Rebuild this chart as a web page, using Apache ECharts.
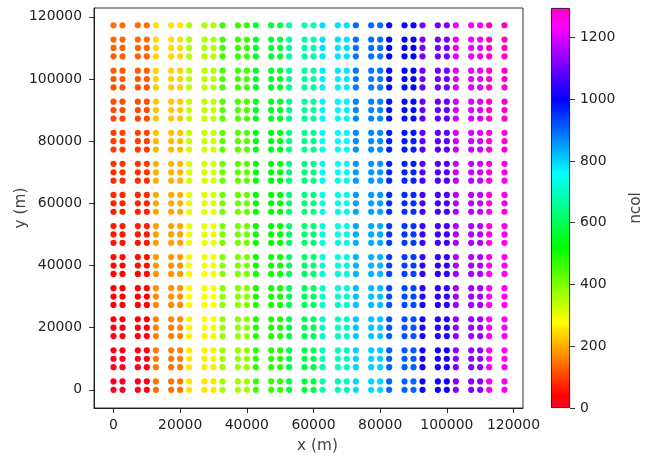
<!DOCTYPE html>
<html>
<head>
<meta charset="utf-8">
<script src="https://cdn.jsdelivr.net/npm/echarts@6/dist/echarts.min.js"></script>
<style>
  html, body { margin: 0; padding: 0; background: #fff; }
  #chart { width: 645px; height: 457px; }
</style>
</head>
<body>
<div id="chart"></div>
<script>
// Sample point coordinates (m): same spacing along x and y
const X_POS = [0, 2700, 7300, 10000, 12700, 17300, 20000, 22700, 27300, 30000, 32700,
  37300, 40000, 42700, 47300, 50000, 52700, 57300, 60000, 62700, 67300, 70000, 72700,
  77300, 80000, 82700, 87300, 90000, 92700, 97300, 100000, 102700, 107300, 110000, 112700, 117300];
const Y_POS = [0, 2700, 7300, 10000, 12700, 17300, 20000, 22700, 27300, 30000, 32700,
  37300, 40000, 42700, 47300, 50000, 52700, 57300, 60000, 62700, 67300, 70000, 72700,
  77300, 80000, 82700, 87300, 90000, 92700, 97300, 100000, 102700, 107300, 110000, 112700, 117300];

// ncol of every point: one row per Y_POS entry (bottom to top), one value per X_POS entry
const NCOL = [
  [0,1,2,3, 144,145,146, 252,253,254, 360,361,362, 468,469,470, 576,577,578, 684,685,686, 792,793,794, 900,901,902, 1008,1009,1010, 1116,1117,1118, 1224,1225],
  [4,5,6,7, 147,148,149, 255,256,257, 363,364,365, 471,472,473, 579,580,581, 687,688,689, 795,796,797, 903,904,905, 1011,1012,1013, 1119,1120,1121, 1226,1227],
  [8,9,10,11, 150,151,152, 258,259,260, 366,367,368, 474,475,476, 582,583,584, 690,691,692, 798,799,800, 906,907,908, 1014,1015,1016, 1122,1123,1124, 1228,1229],
  [12,13,14,15, 153,154,155, 261,262,263, 369,370,371, 477,478,479, 585,586,587, 693,694,695, 801,802,803, 909,910,911, 1017,1018,1019, 1125,1126,1127, 1230,1231],
  [16,17,18,19, 156,157,158, 264,265,266, 372,373,374, 480,481,482, 588,589,590, 696,697,698, 804,805,806, 912,913,914, 1020,1021,1022, 1128,1129,1130, 1232,1233],
  [20,21,22,23, 159,160,161, 267,268,269, 375,376,377, 483,484,485, 591,592,593, 699,700,701, 807,808,809, 915,916,917, 1023,1024,1025, 1131,1132,1133, 1234,1235],
  [24,25,26,27, 162,163,164, 270,271,272, 378,379,380, 486,487,488, 594,595,596, 702,703,704, 810,811,812, 918,919,920, 1026,1027,1028, 1134,1135,1136, 1236,1237],
  [28,29,30,31, 165,166,167, 273,274,275, 381,382,383, 489,490,491, 597,598,599, 705,706,707, 813,814,815, 921,922,923, 1029,1030,1031, 1137,1138,1139, 1238,1239],
  [32,33,34,35, 168,169,170, 276,277,278, 384,385,386, 492,493,494, 600,601,602, 708,709,710, 816,817,818, 924,925,926, 1032,1033,1034, 1140,1141,1142, 1240,1241],
  [36,37,38,39, 171,172,173, 279,280,281, 387,388,389, 495,496,497, 603,604,605, 711,712,713, 819,820,821, 927,928,929, 1035,1036,1037, 1143,1144,1145, 1242,1243],
  [40,41,42,43, 174,175,176, 282,283,284, 390,391,392, 498,499,500, 606,607,608, 714,715,716, 822,823,824, 930,931,932, 1038,1039,1040, 1146,1147,1148, 1244,1245],
  [44,45,46,47, 177,178,179, 285,286,287, 393,394,395, 501,502,503, 609,610,611, 717,718,719, 825,826,827, 933,934,935, 1041,1042,1043, 1149,1150,1151, 1246,1247],
  [48,49,50,51, 180,181,182, 288,289,290, 396,397,398, 504,505,506, 612,613,614, 720,721,722, 828,829,830, 936,937,938, 1044,1045,1046, 1152,1153,1154, 1248,1249],
  [52,53,54,55, 183,184,185, 291,292,293, 399,400,401, 507,508,509, 615,616,617, 723,724,725, 831,832,833, 939,940,941, 1047,1048,1049, 1155,1156,1157, 1250,1251],
  [56,57,58,59, 186,187,188, 294,295,296, 402,403,404, 510,511,512, 618,619,620, 726,727,728, 834,835,836, 942,943,944, 1050,1051,1052, 1158,1159,1160, 1252,1253],
  [60,61,62,63, 189,190,191, 297,298,299, 405,406,407, 513,514,515, 621,622,623, 729,730,731, 837,838,839, 945,946,947, 1053,1054,1055, 1161,1162,1163, 1254,1255],
  [64,65,66,67, 192,193,194, 300,301,302, 408,409,410, 516,517,518, 624,625,626, 732,733,734, 840,841,842, 948,949,950, 1056,1057,1058, 1164,1165,1166, 1256,1257],
  [68,69,70,71, 195,196,197, 303,304,305, 411,412,413, 519,520,521, 627,628,629, 735,736,737, 843,844,845, 951,952,953, 1059,1060,1061, 1167,1168,1169, 1258,1259],
  [72,73,74,75, 198,199,200, 306,307,308, 414,415,416, 522,523,524, 630,631,632, 738,739,740, 846,847,848, 954,955,956, 1062,1063,1064, 1170,1171,1172, 1260,1261],
  [76,77,78,79, 201,202,203, 309,310,311, 417,418,419, 525,526,527, 633,634,635, 741,742,743, 849,850,851, 957,958,959, 1065,1066,1067, 1173,1174,1175, 1262,1263],
  [80,81,82,83, 204,205,206, 312,313,314, 420,421,422, 528,529,530, 636,637,638, 744,745,746, 852,853,854, 960,961,962, 1068,1069,1070, 1176,1177,1178, 1264,1265],
  [84,85,86,87, 207,208,209, 315,316,317, 423,424,425, 531,532,533, 639,640,641, 747,748,749, 855,856,857, 963,964,965, 1071,1072,1073, 1179,1180,1181, 1266,1267],
  [88,89,90,91, 210,211,212, 318,319,320, 426,427,428, 534,535,536, 642,643,644, 750,751,752, 858,859,860, 966,967,968, 1074,1075,1076, 1182,1183,1184, 1268,1269],
  [92,93,94,95, 213,214,215, 321,322,323, 429,430,431, 537,538,539, 645,646,647, 753,754,755, 861,862,863, 969,970,971, 1077,1078,1079, 1185,1186,1187, 1270,1271],
  [96,97,98,99, 216,217,218, 324,325,326, 432,433,434, 540,541,542, 648,649,650, 756,757,758, 864,865,866, 972,973,974, 1080,1081,1082, 1188,1189,1190, 1272,1273],
  [100,101,102,103, 219,220,221, 327,328,329, 435,436,437, 543,544,545, 651,652,653, 759,760,761, 867,868,869, 975,976,977, 1083,1084,1085, 1191,1192,1193, 1274,1275],
  [104,105,106,107, 222,223,224, 330,331,332, 438,439,440, 546,547,548, 654,655,656, 762,763,764, 870,871,872, 978,979,980, 1086,1087,1088, 1194,1195,1196, 1276,1277],
  [108,109,110,111, 225,226,227, 333,334,335, 441,442,443, 549,550,551, 657,658,659, 765,766,767, 873,874,875, 981,982,983, 1089,1090,1091, 1197,1198,1199, 1278,1279],
  [112,113,114,115, 228,229,230, 336,337,338, 444,445,446, 552,553,554, 660,661,662, 768,769,770, 876,877,878, 984,985,986, 1092,1093,1094, 1200,1201,1202, 1280,1281],
  [116,117,118,119, 231,232,233, 339,340,341, 447,448,449, 555,556,557, 663,664,665, 771,772,773, 879,880,881, 987,988,989, 1095,1096,1097, 1203,1204,1205, 1282,1283],
  [120,121,122,123, 234,235,236, 342,343,344, 450,451,452, 558,559,560, 666,667,668, 774,775,776, 882,883,884, 990,991,992, 1098,1099,1100, 1206,1207,1208, 1284,1285],
  [124,125,126,127, 237,238,239, 345,346,347, 453,454,455, 561,562,563, 669,670,671, 777,778,779, 885,886,887, 993,994,995, 1101,1102,1103, 1209,1210,1211, 1286,1287],
  [128,129,130,131, 240,241,242, 348,349,350, 456,457,458, 564,565,566, 672,673,674, 780,781,782, 888,889,890, 996,997,998, 1104,1105,1106, 1212,1213,1214, 1288,1289],
  [132,133,134,135, 243,244,245, 351,352,353, 459,460,461, 567,568,569, 675,676,677, 783,784,785, 891,892,893, 999,1000,1001, 1107,1108,1109, 1215,1216,1217, 1290,1291],
  [136,137,138,139, 246,247,248, 354,355,356, 462,463,464, 570,571,572, 678,679,680, 786,787,788, 894,895,896, 1002,1003,1004, 1110,1111,1112, 1218,1219,1220, 1292,1293],
  [140,141,142,143, 249,250,251, 357,358,359, 465,466,467, 573,574,575, 681,682,683, 789,790,791, 897,898,899, 1005,1006,1007, 1113,1114,1115, 1221,1222,1223, 1294,1295]
];

const NCOL_MIN = 0;
const NCOL_MAX = 1295;

const AXIS_TICKS = [0, 20000, 40000, 60000, 80000, 100000, 120000];
const CBAR_TICKS = [0, 200, 400, 600, 800, 1000, 1200];

// gist_rainbow colour stops
const RAINBOW = [
  [0.000, [255, 0, 41]],
  [0.030, [255, 0, 0]],
  [0.215, [255, 255, 0]],
  [0.400, [0, 255, 0]],
  [0.586, [0, 255, 255]],
  [0.770, [0, 0, 255]],
  [0.954, [255, 0, 255]],
  [1.000, [255, 0, 191]]
];

function rainbow(t) {
  t = Math.max(0, Math.min(1, t));
  for (let i = 1; i < RAINBOW.length; i++) {
    const [t1, c1] = RAINBOW[i];
    const [t0, c0] = RAINBOW[i - 1];
    if (t <= t1) {
      const f = (t - t0) / (t1 - t0);
      const c = c0.map((v, k) => Math.round(v + (c1[k] - v) * f));
      return 'rgb(' + c.join(',') + ')';
    }
  }
  return 'rgb(255,0,191)';
}

const points = [];
for (let r = 0; r < Y_POS.length; r++) {
  for (let c = 0; c < X_POS.length; c++) {
    points.push([X_POS[c], Y_POS[r], NCOL[r][c]]);
  }
}

const FONT = 'DejaVu Sans';
const labelStyle = { color: '#222', fontFamily: FONT, fontSize: 13.9 };
const nameStyle = { color: '#444', fontFamily: FONT, fontSize: 15.3 };
const spine = { show: true, onZero: false, lineStyle: { color: '#000', width: 0.8 } };
const tickStyle = { color: '#000', width: 0.8 };

const chart = echarts.init(document.getElementById('chart'), null, { renderer: 'canvas' });

chart.setOption({
  animation: false,
  backgroundColor: '#fff',
  grid: [
    { left: 94, top: 8, width: 429, height: 400, outerBoundsMode: 'none', containLabel: false,
      show: true, borderColor: '#000', borderWidth: 0.8, backgroundColor: 'transparent' },
    { left: 551, top: 8, width: 19, height: 400, outerBoundsMode: 'none', containLabel: false }
  ],
  xAxis: [
    {
      gridIndex: 0, type: 'value', min: -5850, max: 122850,
      name: 'x (m)', nameLocation: 'middle', nameGap: 31,
      nameTextStyle: Object.assign({ padding: [0, 0, 0, 18] }, nameStyle),
      axisLine: spine,
      axisTick: { show: true, inside: false, length: 5, customValues: AXIS_TICKS, lineStyle: tickStyle },
      axisLabel: Object.assign({ margin: 10, customValues: AXIS_TICKS, formatter: v => String(v) }, labelStyle),
      splitLine: { show: false }
    },
    { gridIndex: 1, type: 'category', data: ['ncol'], show: false }
  ],
  yAxis: [
    {
      gridIndex: 0, type: 'value', min: -5850, max: 122850,
      name: 'y (m)', nameLocation: 'middle', nameGap: 65, nameMoveOverlap: false, nameTextStyle: nameStyle,
      axisLine: spine,
      axisTick: { show: true, inside: false, length: 5, customValues: AXIS_TICKS, lineStyle: tickStyle },
      axisLabel: Object.assign({ margin: 12, customValues: AXIS_TICKS, formatter: v => String(v) }, labelStyle),
      splitLine: { show: false }
    },
    {
      gridIndex: 1, type: 'value', min: NCOL_MIN, max: NCOL_MAX, position: 'right',
      name: 'ncol', nameLocation: 'middle', nameGap: 59, nameRotate: 90, nameTextStyle: nameStyle,
      axisLine: { show: false },
      axisTick: { show: true, inside: false, length: 5, customValues: CBAR_TICKS, lineStyle: tickStyle },
      axisLabel: Object.assign({ margin: 10, customValues: CBAR_TICKS, formatter: v => String(v) }, labelStyle),
      splitLine: { show: false }
    }
  ],
  series: [
    {
      type: 'scatter', xAxisIndex: 0, yAxisIndex: 0,
      symbol: 'circle', symbolSize: 6.2,
      data: points,
      itemStyle: { color: p => rainbow((p.value[2] - NCOL_MIN) / (NCOL_MAX - NCOL_MIN)), opacity: 1 },
      silent: true
    },
    {
      // colour bar
      type: 'bar', xAxisIndex: 1, yAxisIndex: 1,
      data: [NCOL_MAX], barWidth: '100%',
      itemStyle: {
        color: new echarts.graphic.LinearGradient(0, 1, 0, 0,
          RAINBOW.map(([t, c]) => ({ offset: t, color: 'rgb(' + c.join(',') + ')' }))),
        borderColor: '#000', borderWidth: 0.8
      },
      silent: true
    }
  ]
});
</script>
</body>
</html>
